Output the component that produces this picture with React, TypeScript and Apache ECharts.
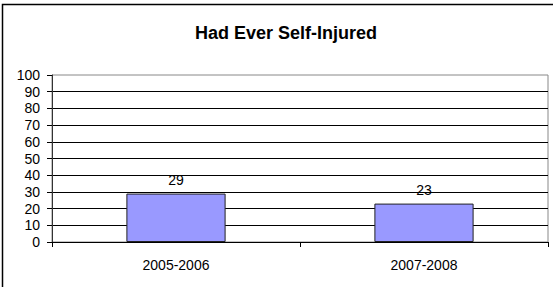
import React, { useEffect, useRef } from "react";
import * as echarts from "echarts";

const categories = ["2005-2006", "2007-2008"];
const values = [29, 23];
const titleText = "Had Ever Self-Injured";

export default function App() {
  const ref = useRef<HTMLDivElement>(null);
  useEffect(() => {
    const chart = echarts.init(ref.current!, null, { renderer: "svg" });
    const font = "Arial, 'Liberation Sans', sans-serif";
    chart.setOption({
      animation: false,
      backgroundColor: "#fff",
      textStyle: { fontFamily: font },
      title: {
        text: titleText,
        left: 281,
        top: 19,
        textAlign: "center",
        textStyle: { fontFamily: font, fontSize: 18, fontWeight: "bold", color: "#000" },
      },
      graphic: [
        {
          type: "rect",
          shape: { x: 2.5, y: 4.5, width: 600, height: 400 },
          style: { fill: "none", stroke: "#000", lineWidth: 1.5 },
          silent: true,
        },
      ],
      grid: {
        left: 52,
        right: 5,
        top: 75,
        bottom: 45,
        show: true,
        borderColor: "#888",
        borderWidth: 1,
        containLabel: false,
      },
      xAxis: {
        type: "category",
        data: categories,
        axisLine: { lineStyle: { color: "#000", width: 1 } },
        axisTick: { show: true, length: 5, lineStyle: { color: "#000" } },
        axisLabel: { color: "#000", fontSize: 14, fontFamily: font, margin: 16 },
      },
      yAxis: {
        type: "value",
        min: 0,
        max: 100,
        interval: 10,
        axisLine: { show: true, lineStyle: { color: "#333", width: 1 } },
        axisTick: { show: true, length: 5, lineStyle: { color: "#000" } },
        axisLabel: { color: "#000", fontSize: 14, fontFamily: font, margin: 12 },
        splitLine: { show: true, showMaxLine: false, lineStyle: { color: "#000", width: 1 } },
      },
      series: [
        {
          type: "bar",
          data: values,
          barWidth: "40%",
          itemStyle: { color: "#9999FF", borderColor: "#222", borderWidth: 1 },
          label: {
            show: true,
            position: "top",
            distance: 7,
            color: "#000",
            fontSize: 14,
            fontFamily: font,
          },
        },
      ],
    });
    return () => chart.dispose();
  }, []);
  return (
    <div
      ref={ref}
      style={{ position: "fixed", left: 0, top: 0, width: 553, height: 287 }}
    />
  );
}
